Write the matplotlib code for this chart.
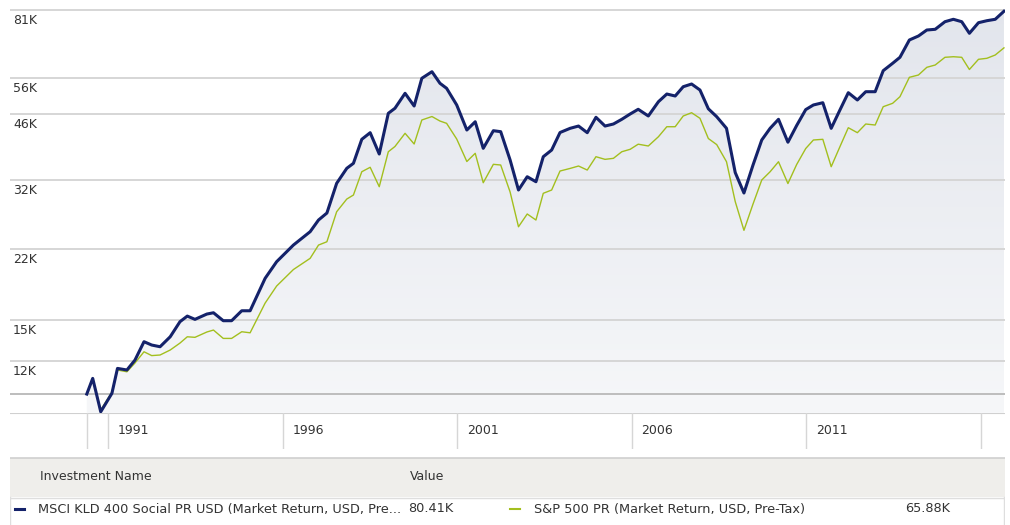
import numpy as np
import matplotlib
matplotlib.use('Agg')
import matplotlib.pyplot as plt

# quarterly growth of 10K (dates as decimal years)
dates = [1990.39, 1990.56, 1990.79, 1991.11, 1991.27, 1991.54, 1991.77, 1992.03, 1992.25, 1992.49,
         1992.78, 1993.06, 1993.27, 1993.49, 1993.83, 1994.02, 1994.30, 1994.54, 1994.83, 1995.07,
         1995.50, 1995.83, 1996.31, 1996.79, 1997.03, 1997.27, 1997.55, 1997.84, 1998.03, 1998.27,
         1998.51, 1998.77, 1999.03, 1999.22, 1999.51, 1999.77, 1999.99, 2000.28, 2000.51, 2000.70,
         2000.99, 2001.28, 2001.52, 2001.75, 2002.04, 2002.25, 2002.52, 2002.76, 2003.01, 2003.26,
         2003.47, 2003.71, 2003.95, 2004.24, 2004.48, 2004.73, 2004.98, 2005.24, 2005.48, 2005.72,
         2005.96, 2006.19, 2006.48, 2006.77, 2007.01, 2007.25, 2007.48, 2007.72, 2007.96, 2008.20,
         2008.44, 2008.72, 2008.97, 2009.22, 2009.48, 2009.73, 2009.97, 2010.21, 2010.48, 2010.73,
         2010.99, 2011.21, 2011.48, 2011.72, 2011.97, 2012.21, 2012.47, 2012.71, 2012.98, 2013.21,
         2013.48, 2013.69, 2013.96, 2014.22, 2014.46, 2014.70, 2014.98, 2015.22, 2015.46, 2015.68,
         2015.94, 2016.18, 2016.42, 2016.67]

msci_kld = [10.00, 10.89, 9.08, 10.04, 11.50, 11.40, 12.03, 13.30, 13.06, 12.94,
            13.66, 14.83, 15.29, 15.02, 15.46, 15.57, 14.91, 14.91, 15.74, 15.74,
            18.78, 20.56, 22.51, 24.21, 25.80, 26.80, 31.51, 34.19, 35.13, 40.04,
            41.51, 36.96, 46.13, 47.41, 51.44, 48.00, 55.82, 57.86, 54.32, 52.86,
            48.27, 42.12, 44.06, 38.12, 41.96, 41.74, 35.77, 30.38, 32.66, 31.78,
            36.42, 37.77, 41.55, 42.51, 43.04, 41.51, 45.14, 43.04, 43.52, 44.65,
            45.96, 47.15, 45.46, 49.14, 51.24, 50.69, 53.32, 54.11, 52.37, 47.28,
            45.28, 42.51, 33.41, 29.89, 34.81, 39.89, 42.51, 44.65, 39.41, 43.16,
            47.07, 48.27, 48.87, 42.51, 46.97, 51.61, 49.60, 51.89, 51.89, 58.18,
            60.57, 62.58, 68.77, 70.28, 72.61, 72.89, 75.97, 76.97, 75.97, 71.32,
            75.56, 76.38, 76.97, 80.41]

sp500 = [10.00, 10.89, 9.17, 10.11, 11.40, 11.29, 11.84, 12.59, 12.33, 12.37,
         12.71, 13.20, 13.66, 13.62, 14.02, 14.17, 13.54, 13.54, 14.04, 13.96,
         16.41, 18.01, 19.70, 20.94, 22.51, 22.92, 26.99, 28.92, 29.56, 33.56,
         34.38, 30.93, 37.42, 38.50, 41.37, 39.03, 44.48, 45.33, 44.23, 43.68,
         40.10, 35.48, 37.10, 31.61, 34.94, 34.81, 30.05, 24.87, 26.66, 25.80,
         29.84, 30.38, 33.69, 34.17, 34.62, 33.87, 36.42, 35.90, 36.10, 37.42,
         37.92, 38.99, 38.61, 40.61, 42.88, 42.88, 45.46, 46.28, 44.89, 40.21,
         38.90, 35.44, 28.53, 24.39, 28.15, 32.08, 33.56, 35.44, 31.47, 34.90,
         38.08, 39.89, 40.04, 34.49, 38.46, 42.65, 41.51, 43.52, 43.28, 47.82,
         48.71, 50.50, 56.12, 56.83, 59.26, 60.01, 62.58, 62.78, 62.58, 58.56,
         61.90, 62.24, 63.37, 65.88]

y_ticks = [10, 12, 15, 22, 32, 46, 56, 81]
y_labels = ['', '12K', '15K', '22K', '32K', '46K', '56K', '81K']
x_ticks = [1990.39, 1991, 1996, 2001, 2006, 2011, 2016]
x_labels = ['', '1991', '1996', '2001', '2006', '2011', '']

names = ['MSCI KLD 400 Social PR USD (Market Return, USD, Pre...',
         'S&P 500 PR (Market Return, USD, Pre-Tax)']
end_values = ['80.41K', '65.88K']

navy = '#14226a'
green = '#a3bf1e'
text_col = '#333333'

W, H = 1010, 525
fig = plt.figure(figsize=(W / 100, H / 100), dpi=100)
plt.rcParams['font.family'] = ['DejaVu Sans']

def px_axes(x0, y0, x1, y1):
    # pixel box (top-left origin) -> figure axes
    return fig.add_axes([x0 / W, 1 - y1 / H, (x1 - x0) / W, (y1 - y0) / H])

xmin, xmax = 1988.19, 2016.70

# main plot
ax = px_axes(10, 0, 1005, 413)
ax.set_yscale('log')
ax.set_xlim(xmin, xmax)
ax.set_ylim(9.02, 85.5)
ax.axis('off')

fill = ax.fill_between(dates, msci_kld, 1, color='none', lw=0)
grad = np.linspace(0, 1, 256).reshape(-1, 1)
cmap = matplotlib.colors.LinearSegmentedColormap.from_list('g', ['#f6f7f9', '#e2e5ec'])
im = ax.imshow(grad, extent=[0, 1, 0, 1], transform=ax.transAxes, origin='lower',
               cmap=cmap, aspect='auto', zorder=1)
im.set_clip_path(fill.get_paths()[0], transform=ax.transData)

for v, lab in zip(y_ticks, y_labels):
    ax.axhline(v, color='#bdbdbd' if v == 10 else '#d6d6d6', lw=1.4, zorder=2)
    if lab:
        ax.annotate(lab, xy=(0, v), xycoords=('axes fraction', 'data'),
                    xytext=(3, -4), textcoords='offset pixels',
                    ha='left', va='top', fontsize=9, color=text_col, zorder=5)

ax.plot(dates, sp500, color=green, lw=1.0, zorder=3)
ax.plot(dates, msci_kld, color=navy, lw=2.2, zorder=4, solid_joinstyle='round')

# x axis band
axx = px_axes(10, 413, 1005, 449)
axx.set_xlim(xmin, xmax)
axx.set_ylim(0, 1)
axx.axis('off')
axx.axhline(1, color='#d0d0d0', lw=1.5)
for t, lab in zip(x_ticks, x_labels):
    axx.axvline(t, color='#d6d6d6', lw=1.0)
    if lab:
        axx.annotate(lab, xy=(t, 0.5), xycoords='data', xytext=(10, 0),
                     textcoords='offset pixels', ha='left', va='center',
                     fontsize=9, color=text_col)

# legend table
axt = px_axes(10, 456, 1005, 525)
axt.set_xlim(10, 1005)
axt.set_ylim(525, 456)
axt.axis('off')
axt.add_patch(plt.Rectangle((10, 458), 995, 39, facecolor='#efeeeb', edgecolor='none'))
axt.plot([10, 1005], [457.5, 457.5], color='#cfcfcf', lw=1.2)
axt.plot([10, 1005], [497.5, 497.5], color='#dedede', lw=1.0)
axt.plot([10.5, 10.5], [497, 525], color='#dedede', lw=1.0)
axt.plot([1004, 1004], [497, 525], color='#dedede', lw=1.0)
axt.text(40, 477, 'Investment Name', fontsize=9, color=text_col, va='center')
axt.text(410, 477, 'Value', fontsize=9, color=text_col, va='center')

axt.plot([15, 24], [509, 509], color=navy, lw=2.2)
axt.text(38, 509, names[0], fontsize=9.3, color=text_col, va='center')
axt.text(408, 509, end_values[0], fontsize=9.3, color=text_col, va='center')
axt.plot([510, 520], [509, 509], color=green, lw=1.5)
axt.text(534, 509, names[1], fontsize=9.3, color=text_col, va='center')
axt.text(905, 509, end_values[1], fontsize=9.3, color=text_col, va='center')

fig.savefig('out.png', dpi=100)
